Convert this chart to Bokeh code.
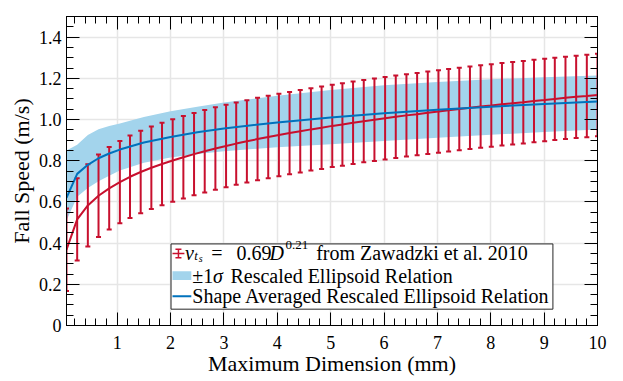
from bokeh.plotting import figure
from bokeh.models import FixedTicker, LinearAxis, Range1d, PrintfTickFormatter, CustomLabelingPolicy
from bokeh.core.properties import value
from bokeh.embed import file_html
from bokeh.resources import INLINE

# ---------------- data ----------------
# Zawadzki et al. 2010 relation, sampled where the error bars are drawn
D_zaw = [0.05, 0.25, 0.45, 0.65, 0.85, 1.05, 1.24, 1.44, 1.64, 1.84,
         2.04, 2.24, 2.44, 2.64, 2.84, 3.04, 3.23, 3.43, 3.63, 3.83,
         4.03, 4.23, 4.43, 4.63, 4.83, 5.03, 5.22, 5.42, 5.62, 5.82,
         6.02, 6.22, 6.42, 6.62, 6.82, 7.02, 7.21, 7.41, 7.61, 7.81,
         8.01, 8.21, 8.41, 8.61, 8.81, 9.01, 9.20, 9.40, 9.60, 9.80, 10.0]
v_zaw = [0.368, 0.515, 0.583, 0.630, 0.666, 0.696, 0.722, 0.745, 0.766, 0.784,
         0.801, 0.817, 0.832, 0.846, 0.859, 0.871, 0.883, 0.894, 0.905, 0.915,
         0.925, 0.934, 0.943, 0.952, 0.960, 0.969, 0.976, 0.984, 0.992, 0.999,
         1.006, 1.013, 1.020, 1.026, 1.033, 1.039, 1.045, 1.051, 1.057, 1.063,
         1.068, 1.074, 1.079, 1.084, 1.090, 1.095, 1.100, 1.105, 1.110, 1.114, 1.119]
zaw_err = 0.2

# Rescaled ellipsoid relation: shape averaged curve and +-1 sigma band
D_ell = [0.05, 0.25, 0.45, 0.65, 0.85, 1.05, 1.5, 2.0, 2.5, 3.0, 4.0, 5.0, 6.0, 7.0, 8.0, 9.0, 10.0]
v_ell = [0.620, 0.736, 0.780, 0.812, 0.835, 0.854, 0.888, 0.915, 0.938, 0.956,
         0.986, 1.010, 1.030, 1.047, 1.062, 1.075, 1.087]
v_ell_hi = [0.850, 0.877, 0.925, 0.953, 0.968, 0.980, 1.012, 1.040, 1.062, 1.082,
            1.115, 1.143, 1.166, 1.182, 1.195, 1.205, 1.214]
v_ell_lo = [0.510, 0.625, 0.668, 0.700, 0.727, 0.752, 0.790, 0.815, 0.833, 0.846,
            0.865, 0.880, 0.896, 0.911, 0.926, 0.939, 0.951]

x_ticks = [1, 2, 3, 4, 5, 6, 7, 8, 9, 10]
y_ticks = [0, 0.2, 0.4, 0.6, 0.8, 1.0, 1.2, 1.4]
x_minor = [round(0.2 * k, 2) for k in range(1, 50)]
y_minor = [round(0.05 * k, 2) for k in range(0, 31)]

# ---------------- style ----------------
FONT = "Liberation Serif"
RED = "#c8102e"
BLUE = "#0072bd"
BAND = "#a3d4ec"
GRID = "#e6e6e6"

X0, X1, Y0, Y1 = 0.05, 10.0, 0.0, 1.5

p = figure(width=623, height=381, x_range=Range1d(X0, X1), y_range=Range1d(Y0, Y1),
           output_backend="svg", toolbar_location=None,
           min_border_left=66, min_border_right=21, min_border_top=3, min_border_bottom=56)
p.background_fill_color = "white"
p.border_fill_color = "white"
p.outline_line_color = "black"
p.outline_line_width = 1

NO_LABELS = CustomLabelingPolicy(code="""
    for (const i of indices) indices.unset(i)
    return indices
""")

def style_axis(ax, ticks, minor, show_labels, standoff):
    ax.ticker = FixedTicker(ticks=ticks, minor_ticks=minor)
    ax.axis_line_color = "black"
    ax.major_tick_line_color = "black"
    ax.minor_tick_line_color = "black"
    ax.major_tick_in = 13
    ax.major_tick_out = 0
    ax.minor_tick_in = 7
    ax.minor_tick_out = 0
    ax.major_label_text_font = FONT
    ax.major_label_text_font_size = "18px"
    ax.major_label_text_color = "black"
    ax.major_label_standoff = standoff
    if not show_labels:
        ax.major_label_policy = NO_LABELS
        ax.major_label_standoff = 0

xa = p.xaxis[0]
ya = p.yaxis[0]
style_axis(xa, x_ticks, x_minor, True, 10)
style_axis(ya, y_ticks, y_minor, True, 5)
ya.formatter = PrintfTickFormatter(format="%.1f")
ya.major_label_overrides = {0: "0"}
xa.axis_label = "Maximum Dimension (mm)"
ya.axis_label = "Fall Speed (m/s)"
for ax in (xa, ya):
    ax.axis_label_text_font = FONT
    ax.axis_label_text_font_size = "22px"
    ax.axis_label_text_font_style = "normal"
    ax.axis_label_text_color = "black"
xa.axis_label_standoff = -1
ya.axis_label_standoff = 2

top = LinearAxis()
style_axis(top, x_ticks, x_minor, False, 0)
p.add_layout(top, "above")
right = LinearAxis()
style_axis(right, y_ticks, y_minor, False, 0)
p.add_layout(right, "right")

p.xgrid.ticker = FixedTicker(ticks=x_ticks)
p.ygrid.ticker = FixedTicker(ticks=y_ticks)
p.xgrid.grid_line_color = GRID
p.ygrid.grid_line_color = GRID
p.xgrid.grid_line_width = 1.5
p.ygrid.grid_line_width = 1.5

# ---------------- data marks ----------------
p.varea(x=D_ell, y1=v_ell_lo, y2=v_ell_hi, fill_color=BAND, fill_alpha=1.0)

err_lo = [v - zaw_err for v in v_zaw]
err_hi = [v + zaw_err for v in v_zaw]
p.segment(x0=D_zaw, y0=err_lo, x1=D_zaw, y1=err_hi, line_color=RED, line_width=2)
p.scatter(x=D_zaw, y=err_lo, marker="dash", size=5, line_color=RED, line_width=2)
p.scatter(x=D_zaw, y=err_hi, marker="dash", size=5, line_color=RED, line_width=2)
p.line(D_zaw, v_zaw, line_color=RED, line_width=2)
p.line(D_ell, v_ell, line_color=BLUE, line_width=2)

# ---------------- legend (hand built for the math text) ----------------
FL, FR, FT, FB = 66.0, 602.0, 3.0, 325.0   # frame box in page pixels
def X(px):
    return X0 + (px - FL) / (FR - FL) * (X1 - X0)
def Y(py):
    return Y0 + (FB - py) / (FB - FT) * (Y1 - Y0)

p.quad(left=[X(171.5)], right=[X(557)], top=[Y(240)], bottom=[Y(308)],
       fill_color="white", line_color="#262626", line_width=1)
# row 1 : error bar sample
p.segment(x0=[X(173)], y0=[Y(250)], x1=[X(185)], y1=[Y(250)], line_color=RED, line_width=1.5)
p.segment(x0=[X(179)], y0=[Y(245.5)], x1=[X(179)], y1=[Y(254.5)], line_color=RED, line_width=1.5)
p.scatter(x=[X(179), X(179)], y=[Y(245.5), Y(254.5)], marker="dash", size=6,
          line_color=RED, line_width=1.5)
# row 2 : band sample
p.quad(left=[X(173)], right=[X(192)], top=[Y(268.5)], bottom=[Y(277.5)],
       fill_color=BAND, line_color=None)
# row 3 : line sample
p.segment(x0=[X(173)], y0=[Y(294.5)], x1=[X(192)], y1=[Y(294.5)], line_color=BLUE, line_width=2)

def txt(px, py, s, size=20, style="normal"):
    p.text(x=[X(px)], y=[Y(py)], text=[s], text_font=value(FONT), text_font_size=f"{size}px",
           text_font_style=style, text_color="black", text_align="left",
           text_baseline="alphabetic")

B1, B2, B3 = 249.0, 273.5, 294.0
txt(185.5, B1, "v", 20, "italic")
txt(195.0, B1 + 3.5, "t", 13, "italic")
txt(199.5, B1 + 6.0, "s", 10, "italic")
txt(212.0, B1, "=")
txt(237.5, B1, "0.69")
txt(271.0, B1, "D", 20, "italic")
txt(287.0, B1 - 8.0, "0.21", 13)
txt(318.0, B1, "from Zawadzki et al. 2010")
txt(193.0, B2, "\u00b11")
txt(214.0, B2, "\u03c3", 20, "italic")
txt(231.5, B2, "Rescaled Ellipsoid Relation")
txt(193.0, B3, "Shape Averaged Rescaled Ellipsoid Relation")

open("out.html", "w").write(file_html(p, INLINE))
